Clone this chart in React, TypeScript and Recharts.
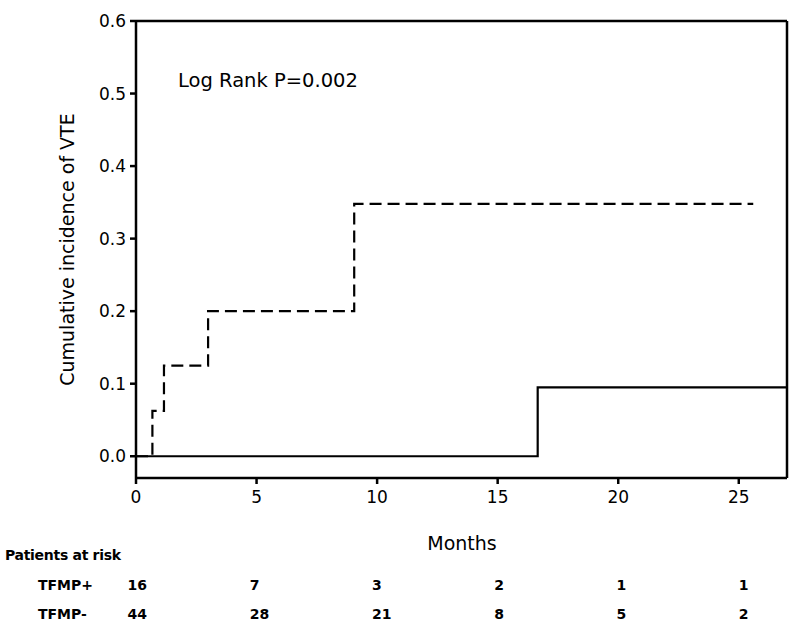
import React from 'react'
import { LineChart, Line, XAxis, YAxis, ReferenceLine } from 'recharts'

// TFMP+ (dashed) and TFMP- (solid) cumulative incidence, step functions
const tfmpPosMonths = [0, 0.68, 1.16, 2.99, 9.05, 25.6]
const tfmpPosValues = [0, 0.0625, 0.125, 0.2, 0.348, 0.348]
const tfmpNegMonths = [0, 16.66, 27]
const tfmpNegValues = [0, 0.095, 0.095]

const xTicks = [0, 5, 10, 15, 20, 25]
const yTicks = [0, 0.1, 0.2, 0.3, 0.4, 0.5, 0.6]

// patients at risk at each x tick
const riskPos = [16, 7, 3, 2, 1, 1]
const riskNeg = [44, 28, 21, 8, 5, 2]

const posData = tfmpPosMonths.map((m, i) => ({ month: m, value: tfmpPosValues[i] }))
const negData = tfmpNegMonths.map((m, i) => ({ month: m, value: tfmpNegValues[i] }))

const FONT = '"DejaVu Sans", Verdana, sans-serif'

const MonthTick = (props: any) => {
  const { x, y, payload, index } = props
  return (
    <g>
      <text x={x} y={y} dy='0.71em' textAnchor='middle' fontSize={17} fontFamily={FONT} fill='#000'>
        {payload.value}
      </text>
      <text x={x - 8.5 + index * 1.7} y={y + 99} fontSize={14} fontWeight='bold' fontFamily={FONT} fill='#000'>
        {riskPos[index]}
      </text>
      <text x={x - 8.5 + index * 1.7} y={y + 128} fontSize={14} fontWeight='bold' fontFamily={FONT} fill='#000'>
        {riskNeg[index]}
      </text>
    </g>
  )
}

const App = () => {
  return (
    <div style={{ position: 'absolute', left: 0, top: 0, width: 800, height: 635, background: '#fff' }}>
      <LineChart width={800} height={635} margin={{ top: 21, right: 13, bottom: 0, left: 0 }}>
        <XAxis
          dataKey='month'
          type='number'
          domain={[0, 27]}
          ticks={xTicks}
          allowDataOverflow
          height={157}
          tickSize={6}
          tickMargin={7}
          stroke='#000'
          strokeWidth={2.5}
          tick={<MonthTick />}
        />
        <YAxis
          type='number'
          domain={[-0.03, 0.6]}
          ticks={yTicks}
          allowDataOverflow
          width={136}
          tickSize={6}
          tickMargin={4}
          stroke='#000'
          strokeWidth={2.5}
          tickFormatter={(v: number) => v.toFixed(1)}
          tick={{ fontSize: 17, fontFamily: FONT, fill: '#000' }}
        />
        <ReferenceLine y={0.6} stroke='#000' strokeWidth={2.5} />
        <ReferenceLine x={27} stroke='#000' strokeWidth={2.5} />
        <Line
          data={negData}
          dataKey='value'
          type='stepAfter'
          stroke='#000'
          strokeWidth={2.2}
          dot={false}
          isAnimationActive={false}
        />
        <Line
          data={posData}
          dataKey='value'
          type='stepAfter'
          stroke='#000'
          strokeWidth={2.2}
          strokeDasharray='12 6'
          dot={false}
          isAnimationActive={false}
        />
      </LineChart>
      <svg width={800} height={635} style={{ position: 'absolute', left: 0, top: 0, pointerEvents: 'none' }}>
        <text x={178} y={87} fontSize={19.5} fontFamily={FONT} fill='#000'>
          Log Rank P=0.002
        </text>
        <text
          x={0}
          y={0}
          transform='translate(74, 249.5) rotate(-90)'
          textAnchor='middle'
          fontSize={19}
          fontFamily={FONT}
          fill='#000'
        >
          Cumulative incidence of VTE
        </text>
        <text x={462} y={550} textAnchor='middle' fontSize={19} fontFamily={FONT} fill='#000'>
          Months
        </text>
        <text x={5} y={560} fontSize={14} fontWeight='bold' fontFamily={FONT} letterSpacing={-0.3} fill='#000'>
          Patients at risk
        </text>
        <text x={38} y={590} fontSize={14} fontWeight='bold' fontFamily={FONT} fill='#000'>
          TFMP+
        </text>
        <text x={38} y={619} fontSize={14} fontWeight='bold' fontFamily={FONT} fill='#000'>
          TFMP-
        </text>
      </svg>
    </div>
  )
}

export default App
